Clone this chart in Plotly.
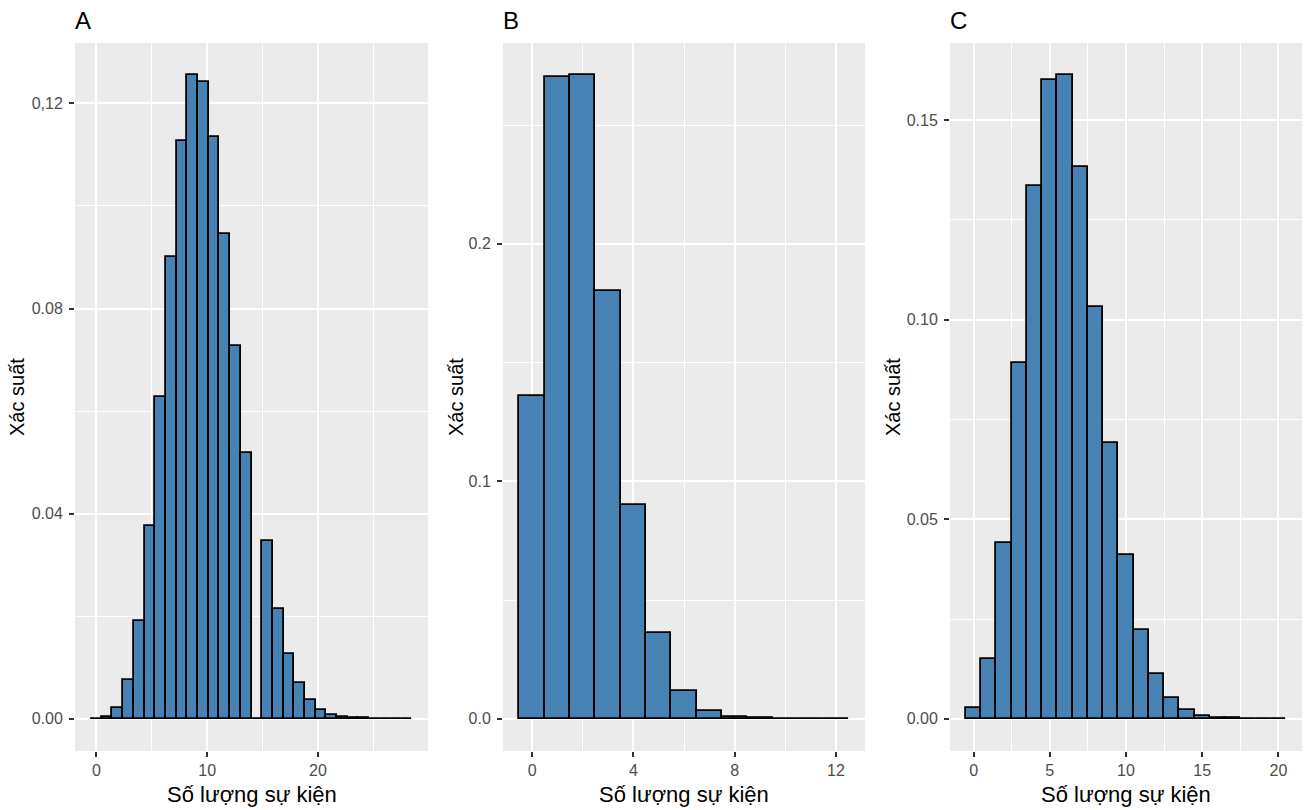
import plotly.graph_objects as go

W, H = 1312, 810

# Panel A: histogram with 30 bins over counts 0..28 (bin 15 happens to be empty)
a_bins = 30
a_max = 28
a_prob = [0.00005, 0.0004, 0.0021, 0.0076, 0.0190, 0.0376, 0.0628, 0.0900,
          0.1126, 0.1255, 0.1242, 0.1135, 0.0945, 0.0726, 0.0518, 0.0,
          0.0346, 0.0215, 0.0126, 0.0069, 0.0036, 0.0017, 0.0008, 0.0003,
          0.0002, 0.0001, 0.00005, 0.00004, 0.00003, 0.00003]

# Panel B: counts 0..12
b_count = list(range(13))
b_prob = [0.1358, 0.2704, 0.2710, 0.1803, 0.0901, 0.0361, 0.0118, 0.0032,
          0.0008, 0.0002, 0.00005, 0.00004, 0.00003]

# Panel C: counts 0..20
c_count = list(range(21))
c_prob = [0.0026, 0.0150, 0.0441, 0.0890, 0.1335, 0.1601, 0.1612, 0.1383,
          0.1031, 0.0692, 0.0411, 0.0222, 0.0113, 0.0051, 0.0021, 0.0008,
          0.0003, 0.0001, 0.00004, 0.00003, 0.00003]

a_x_ticks = [0, 10, 20]
b_x_ticks = [0, 4, 8, 12]
c_x_ticks = [0, 5, 10, 15, 20]
a_y_ticks = [0.0, 0.04, 0.08, 0.12]
a_y_labels = ["0.00", "0.04", "0.08", "0,12"]
b_y_ticks = [0.0, 0.1, 0.2]
b_y_labels = ["0.0", "0.1", "0.2"]
c_y_ticks = [0.0, 0.05, 0.10, 0.15]
c_y_labels = ["0.00", "0.05", "0.10", "0.15"]

tags = ["A", "B", "C"]
x_title = "Số lượng sự kiện"
y_title = "Xác suất"

a_width = a_max / (a_bins - 1)
a_x = [i * a_width for i in range(a_bins)]

FILL = "#4682B4"
BG = "#EBEBEB"
FONT = "Liberation Sans, Arial, sans-serif"

# pixel layout of the three panels (left, right), shared top/bottom
panel_px = [(75, 428), (503, 865), (950, 1302)]
top_px, bottom_px = 43, 751
ytitle_px = [17, 456, 893]

panels = [
    dict(x=a_x, y=a_prob, width=a_width, xt=a_x_ticks, xminor=5,
         yt=a_y_ticks, yl=a_y_labels, yminor=0.02),
    dict(x=b_count, y=b_prob, width=1, xt=b_x_ticks, xminor=2,
         yt=b_y_ticks, yl=b_y_labels, yminor=0.05),
    dict(x=c_count, y=c_prob, width=1, xt=c_x_ticks, xminor=2.5,
         yt=c_y_ticks, yl=c_y_labels, yminor=0.025),
]

fig = go.Figure()
annotations = []
ydom = [1 - bottom_px / H, 1 - top_px / H]

for i, p in enumerate(panels):
    n = "" if i == 0 else str(i + 1)
    fig.add_trace(go.Bar(
        x=p["x"], y=p["y"], width=p["width"],
        marker=dict(color=FILL, line=dict(color="black", width=1.8)),
        xaxis="x" + n, yaxis="y" + n, showlegend=False,
    ))

    # ggplot-style 5% expansion on both axes
    lo = p["x"][0] - p["width"] / 2
    hi = p["x"][-1] + p["width"] / 2
    pad = 0.05 * (hi - lo)
    ymax = max(p["y"])

    left, right = panel_px[i]
    tick_style = dict(
        ticks="outside", ticklen=5, tickwidth=1.5, tickcolor="#333333",
        tickfont=dict(size=16, color="#4D4D4D"),
        showgrid=True, gridcolor="white", gridwidth=2,
        zeroline=False, showline=False,
    )
    fig.layout["xaxis" + n] = dict(
        domain=[left / W, right / W], anchor="y" + n,
        range=[lo - pad, hi + pad],
        tickmode="array", tickvals=p["xt"], ticklabelstandoff=0,
        minor=dict(tick0=0, dtick=p["xminor"], showgrid=True,
                   gridcolor="white", gridwidth=1, ticks=""),
        **tick_style,
    )
    fig.layout["yaxis" + n] = dict(
        domain=ydom, anchor="x" + n,
        range=[-0.05 * ymax, 1.05 * ymax],
        tickmode="array", tickvals=p["yt"], ticktext=p["yl"],
        ticklabelstandoff=3,
        minor=dict(tick0=0, dtick=p["yminor"], showgrid=True,
                   gridcolor="white", gridwidth=1, ticks=""),
        **tick_style,
    )

    annotations.append(dict(
        text=x_title, xref="paper", yref="paper",
        x=(left + right) / 2 / W, y=1 - 794 / H,
        xanchor="center", yanchor="middle", showarrow=False,
        font=dict(size=22, color="black"),
    ))
    annotations.append(dict(
        text=y_title, xref="paper", yref="paper", textangle=-90,
        x=ytitle_px[i] / W, y=1 - 397 / H,
        xanchor="center", yanchor="middle", showarrow=False,
        font=dict(size=20, color="black"),
    ))
    annotations.append(dict(
        text=tags[i], xref="paper", yref="paper",
        x=(left - 2) / W, y=1 - 20 / H,
        xanchor="left", yanchor="middle", showarrow=False,
        font=dict(size=24, color="black"),
    ))

fig.update_layout(
    width=W, height=H,
    margin=dict(l=0, r=0, t=0, b=0),
    paper_bgcolor="white", plot_bgcolor=BG,
    font=dict(family=FONT),
    annotations=annotations,
    bargap=0,
)

# drop the browser's default body margin so the figure sits at (0, 0)
fig.write_html("out.html", config={"displayModeBar": False},
               post_script="document.body.style.margin = '0';")
